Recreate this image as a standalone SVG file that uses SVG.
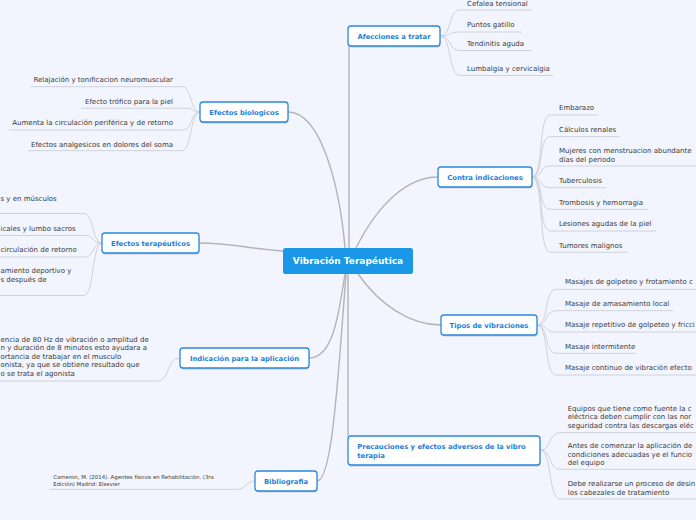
<svg xmlns="http://www.w3.org/2000/svg" width="696" height="520" viewBox="0 0 696 520">
<style>
.bg{fill:#f2f5fd}
.main{fill:none;stroke:#b4b4b4;stroke-width:1.4}
.leaf{fill:none;stroke:#cfd2d8;stroke-width:1}
.box{fill:#ffffff;stroke:#2a88e0;stroke-width:1.3}
.shadow{fill:#c3c8d2}
.lbl{font-family:"DejaVu Sans",Verdana,sans-serif;font-size:6.8px;font-weight:bold;fill:#1d7fd8}
.ctr{font-family:"DejaVu Sans",Verdana,sans-serif;font-size:9px;font-weight:bold;fill:#ffffff;text-anchor:middle}
.t{font-family:"DejaVu Sans",Verdana,sans-serif;font-size:7px;fill:#3a3a3a}
.s{font-family:"DejaVu Sans",Verdana,sans-serif;font-size:5.4px;fill:#3a3a3a}
.m{text-anchor:middle}
.e{text-anchor:end}
</style>
<rect class="bg" x="0" y="0" width="696" height="520"/>
<g id="connectors">
  <path class="main" d="M349,248 L349,46"/>
  <path class="main" d="M348,274 L348,436"/>
  <path class="main" d="M345,248 C340,190 322,112 288,112"/>
  <path class="main" d="M356,248 C380,200 410,177 438,177"/>
  <path class="main" d="M283,251 C250,249 232,243 199,243"/>
  <path class="main" d="M345,274 C338,320 332,358 309,358"/>
  <path class="main" d="M346,274 C338,380 332,481 317,481"/>
  <path class="main" d="M358,274 C380,305 410,325 441,325"/>
  <path class="leaf" d="M440,36 C452,36 448,10 460,10 L532,10"/>
  <path class="leaf" d="M440,36 C452,36 448,32 460,32 L522,32"/>
  <path class="leaf" d="M440,36 C452,36 448,50.5 460,50.5 L532,50.5"/>
  <path class="leaf" d="M440,36 C452,36 448,75.5 460,75.5 L553,75.5"/>
  <path class="leaf" d="M30,86.7 L182,86.7 C192,86.7 190,112 200,112"/>
  <path class="leaf" d="M81,108.3 L186,108.3 C194,108.3 192,112 200,112"/>
  <path class="leaf" d="M9,130 L184,130 C192,130 190,112 200,112"/>
  <path class="leaf" d="M28,150.7 L182,150.7 C192,150.7 190,112 200,112"/>
  <path class="leaf" d="M0,213.5 L84,213.5 C94,213.5 92,243 102,243"/>
  <path class="leaf" d="M0,235.5 L86,235.5 C94,235.5 92,243 102,243"/>
  <path class="leaf" d="M0,257 L86,257 C94,257 92,243 102,243"/>
  <path class="leaf" d="M0,295.5 L84,295.5 C94,295.5 92,243 102,243"/>
  <path class="leaf" d="M0,381 L158,381 C170,381 166,358 180,358"/>
  <path class="leaf" d="M49,489.3 L237,489.3 C247,489.3 245,481 255,481"/>
  <path class="leaf" d="M532,177 C544,177 538,115 550,115 L598,115"/>
  <path class="leaf" d="M532,177 C544,177 538,136.7 550,136.7 L620,136.7"/>
  <path class="leaf" d="M532,177 C544,177 538,166 550,166 L700,166"/>
  <path class="leaf" d="M532,177 C544,177 538,187.7 550,187.7 L606,187.7"/>
  <path class="leaf" d="M532,177 C544,177 538,209.3 550,209.3 L648,209.3"/>
  <path class="leaf" d="M532,177 C544,177 538,231 550,231 L656,231"/>
  <path class="leaf" d="M532,177 C544,177 538,252.3 550,252.3 L628,252.3"/>
  <path class="leaf" d="M537,325 C549,325 544,289.3 556,289.3 L700,289.3"/>
  <path class="leaf" d="M537,325 C549,325 544,310.7 556,310.7 L673,310.7"/>
  <path class="leaf" d="M537,325 C549,325 544,332 556,332 L700,332"/>
  <path class="leaf" d="M537,325 C549,325 544,353.3 556,353.3 L636,353.3"/>
  <path class="leaf" d="M537,325 C549,325 544,375 556,375 L700,375"/>
  <path class="leaf" d="M540,450 C552,450 548,432.7 560,432.7 L700,432.7"/>
  <path class="leaf" d="M540,450 C552,450 548,469.3 560,469.3 L700,469.3"/>
  <path class="leaf" d="M540,450 C552,450 548,499 560,499 L700,499"/>
</g>
<g id="center">
  <rect x="283" y="248" width="130" height="26" rx="2.5" fill="#1a97e6"/>
  <text class="ctr" x="348" y="264.3">Vibración Terapéutica</text>
</g>
<g id="afecciones">
  <rect class="shadow" x="348.5" y="27.5" width="92" height="20" rx="3"/>
  <rect class="box" x="348" y="26" width="92" height="20" rx="3"/>
  <text class="lbl m" x="394" y="38.5">Afecciones a tratar</text>
  <text class="t" x="467" y="6.2">Cefalea tensional</text>
  <text class="t" x="467" y="27.2">Puntos gatillo</text>
  <text class="t" x="467" y="45.8">Tendinitis aguda</text>
  <text class="t" x="467" y="71.2">Lumbalgia y cervicalgia</text>
</g>
<g id="efectos-biologicos">
  <rect class="shadow" x="200.5" y="103.5" width="88" height="20" rx="3"/>
  <rect class="box" x="200" y="102" width="88" height="20" rx="3"/>
  <text class="lbl m" x="244" y="114.5">Efectos biologicos</text>
  <text class="t e" x="173" y="81.5">Relajación y tonificacion neuromuscular</text>
  <text class="t e" x="173" y="104.2">Efecto trófico para la piel</text>
  <text class="t e" x="173" y="125.2">Aumenta la circulación periférica y de retorno</text>
  <text class="t e" x="173" y="146.8">Efectos analgesicos en dolores del soma</text>
</g>
<g id="efectos-terapeuticos">
  <rect class="shadow" x="102.5" y="234.5" width="97" height="20" rx="3"/>
  <rect class="box" x="102" y="233" width="97" height="20" rx="3"/>
  <text class="lbl m" x="150.5" y="245.5">Efectos terapéuticos</text>
  <text class="t" x="0.5" y="200.8">s y en músculos</text>
  <text class="t" x="0.5" y="230.8">icales y lumbo sacros</text>
  <text class="t" x="0.5" y="251.8">circulación de retorno</text>
  <text class="t" x="0.5" y="273.2">amiento deportivo y</text>
  <text class="t" x="0.5" y="281.8">s después  de</text>
</g>
<g id="indicacion">
  <rect class="shadow" x="180.5" y="349.5" width="129" height="20" rx="3"/>
  <rect class="box" x="180" y="348" width="129" height="20" rx="3"/>
  <text class="lbl m" x="244.5" y="360.5">Indicación para la aplicación</text>
  <text class="t" x="0.5" y="341.5">encia de 80 Hz de vibración o amplitud de</text>
  <text class="t" x="0.5" y="350.1">n y duración de 8 minutos esto ayudara a</text>
  <text class="t" x="0.5" y="358.7">ortancia de trabajar en el musculo</text>
  <text class="t" x="0.5" y="367.3">onista, ya que se obtiene resultado que</text>
  <text class="t" x="0.5" y="375.9">o se trata el agonista</text>
</g>
<g id="bibliografia">
  <rect class="shadow" x="255.5" y="472.5" width="62" height="20" rx="3"/>
  <rect class="box" x="255" y="471" width="62" height="20" rx="3"/>
  <text class="lbl m" x="286" y="483.5">Bibliografia</text>
  <text class="s" x="53.3" y="478.8">Cameron, M. (2014). Agentes físicos en Rehabilitación. (3ra</text>
  <text class="s" x="53.3" y="486.3">Edición) Madrid: Elsevier</text>
</g>
<g id="contra-indicaciones">
  <rect class="shadow" x="438.5" y="168.5" width="94" height="20" rx="3"/>
  <rect class="box" x="438" y="167" width="94" height="20" rx="3"/>
  <text class="lbl m" x="485" y="179.5">Contra indicaciones</text>
  <text class="t" x="559" y="110.2">Embarazo</text>
  <text class="t" x="559" y="131.8">Cálculos renales</text>
  <text class="t" x="559" y="152.8">Mujeres con menstruacion abundante</text>
  <text class="t" x="559" y="161.8">días del periodo</text>
  <text class="t" x="559" y="183.2">Tuberculosis</text>
  <text class="t" x="559" y="204.8">Trombosis y hemorragia</text>
  <text class="t" x="559" y="225.8">Lesiones agudas de la piel</text>
  <text class="t" x="559" y="248.2">Tumores malignos</text>
</g>
<g id="tipos">
  <rect class="shadow" x="441.5" y="316.5" width="96" height="20" rx="3"/>
  <rect class="box" x="441" y="315" width="96" height="20" rx="3"/>
  <text class="lbl m" x="489" y="327.5">Tipos de vibraciones</text>
  <text class="t" x="565" y="284.2">Masajes de golpeteo y frotamiento c</text>
  <text class="t" x="565" y="305.8">Masaje de amasamiento local</text>
  <text class="t" x="565" y="326.8">Masaje repetitivo de golpeteo y fricci</text>
  <text class="t" x="565" y="348.5">Masaje intermitente</text>
  <text class="t" x="565" y="369.8">Masaje continuo de vibración efecto</text>
</g>
<g id="precauciones">
  <rect class="shadow" x="348.5" y="437.5" width="192" height="29" rx="3"/>
  <rect class="box" x="348" y="436" width="192" height="29" rx="3"/>
  <text class="lbl" x="357.3" y="449.2">Precauciones y efectos adversos de la vibro</text>
  <text class="lbl" x="357.3" y="457.7">terapia</text>
  <text class="t" x="567.7" y="410.8">Equipos que tiene como fuente la c</text>
  <text class="t" x="567.7" y="419.2">eléctrica deben cumplir con las nor</text>
  <text class="t" x="567.7" y="427.8">seguridad contra las descargas eléc</text>
  <text class="t" x="567.7" y="448.2">Antes de comenzar la aplicación de</text>
  <text class="t" x="567.7" y="456.8">condiciones adecuadas ye el funcio</text>
  <text class="t" x="567.7" y="464.8">del equipo</text>
  <text class="t" x="567.7" y="485.8">Debe realizarse un proceso de desin</text>
  <text class="t" x="567.7" y="494.8">los cabezales de tratamiento</text>
</g>
</svg>
